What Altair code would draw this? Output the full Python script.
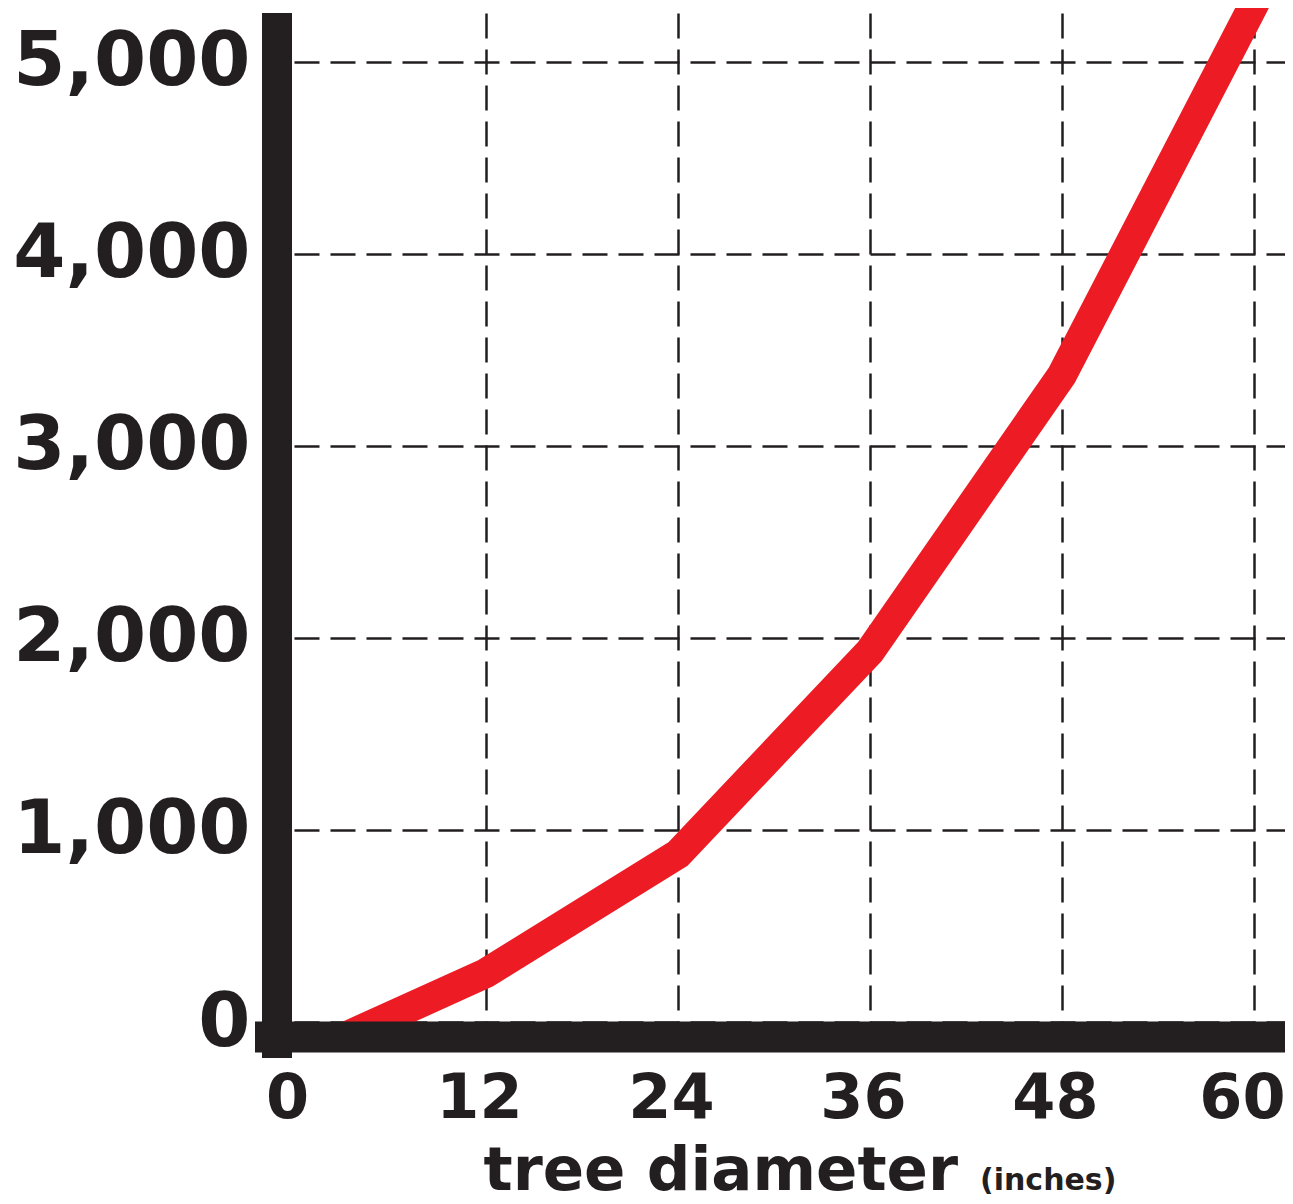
import altair as alt
import pandas as pd

# data
diameter = [3, 12, 24, 36, 48, 60, 61.5]
value = [-85, 255, 875, 1930, 3370, 5300, 5560]
x_ticks = [0, 12, 24, 36, 48, 60]
y_ticks = [0, 1000, 2000, 3000, 4000, 5000]

df = pd.DataFrame({"d": diameter, "v": value})
one = pd.DataFrame({"a": [0]})

W, H = 991, 1009
INK = "#231F20"
RED = "#ED1C24"
FONT = "DejaVu Sans"

x_scale = alt.Scale(domain=[0, 61.94], nice=False, zero=False)
y_scale = alt.Scale(domain=[0, 5255], nice=False, zero=False)

hide_zero = {"condition": {"test": "datum.value === 0", "value": 0}, "value": 1}
x_label_offset = {"condition": {"test": "datum.value === 60", "value": -12}, "value": -7}

line = alt.Chart(df).mark_line(
    color=RED, strokeWidth=30, strokeJoin="miter", strokeCap="butt"
).encode(
    x=alt.X("d:Q", scale=x_scale,
            axis=alt.Axis(values=x_ticks, title="tree diameter", grid=True,
                          gridOpacity=hide_zero, labelFlush=False,
                          labelOffset=x_label_offset,
                          labelFontSize=62, labelPadding=46, labelFont=FONT,
                          labelFontWeight="bold", labelColor=INK, labelLimit=0,
                          titleFont=FONT, titleFontSize=61, titleFontWeight="bold",
                          titleColor=INK, titleX=189, titleY=167,
                          titleAlign="left", titleBaseline="alphabetic",
                          titleAnchor="start")),
    y=alt.Y("v:Q", scale=y_scale,
            axis=alt.Axis(values=y_ticks, format=",d", title=None, grid=True,
                          labelFontSize=75, labelPadding=44, labelFont=FONT,
                          labelFontWeight="bold", labelColor=INK, labelLimit=0,
                          labelFlush=False)),
)

inches = alt.Chart(one).mark_text(
    text="(inches)", font=FONT, fontSize=30, fontWeight="bold", color=INK,
    align="left", baseline="alphabetic"
).encode(x=alt.value(686), y=alt.value(H + 168))

ybar = alt.Chart(one).mark_rule(color=INK, strokeWidth=30).encode(
    x=alt.value(-17), y=alt.value(0), y2=alt.value(H + 36)
)
xbar = alt.Chart(one).mark_rule(color=INK, strokeWidth=31).encode(
    x=alt.value(-39), x2=alt.value(W), y=alt.value(H + 15)
)

chart = alt.layer(line, ybar, xbar, inches).properties(
    width=W, height=H,
    autosize=alt.AutoSizeParams(type="none"),
    padding={"left": 286, "top": 5, "right": 0, "bottom": 182},
).configure_axis(
    domain=False, ticks=False,
    gridColor=INK, gridDash=[25, 11], gridWidth=2.5,
).configure_view(stroke=None)

chart.save("out.html", embed_options={"renderer": "svg", "actions": False})
